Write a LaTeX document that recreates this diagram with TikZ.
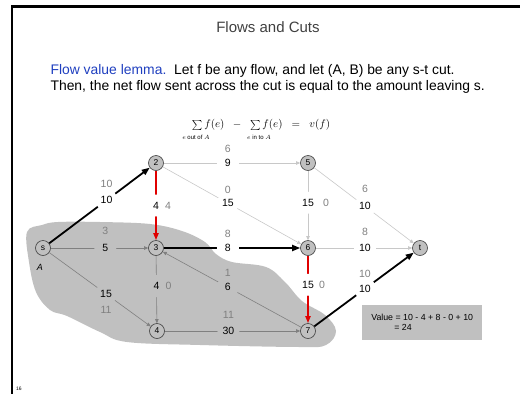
\documentclass[tikz,border=0pt]{standalone}
\usepackage{fontspec}
\setmainfont{Liberation Sans}
\usetikzlibrary{arrows.meta,positioning}
\definecolor{cblue}{HTML}{1F3FBF}
\definecolor{cgray}{HTML}{C0C0C0}
\definecolor{clite}{HTML}{C8C8C8}
\definecolor{cdark}{HTML}{808080}
\definecolor{cred}{HTML}{E00000}
\definecolor{ctitle}{HTML}{404040}
\tikzset{
  >={Triangle[length=4pt,width=3.5pt]},
  cvert/.style={circle, draw=black!75, fill=cgray, line width=0.6pt,
                minimum size=15pt, inner sep=0pt, font=\fontsize{8.5}{9}\selectfont},
  cflow/.style={circle, fill=white, inner sep=0pt, minimum size=22pt,
                font=\fontsize{10.5}{12}\selectfont},
  cflowin/.style={cflow, fill=cgray},
  ccap/.style={text=cdark, inner sep=1pt, font=\fontsize{10.5}{12}\selectfont},
  cpale/.style={->, draw=clite, line width=0.6pt},
  cinside/.style={->, draw=cdark, line width=0.6pt},
  cout/.style={-{Triangle[length=8pt,width=6pt]}, draw=black, line width=1.8pt},
  cinto/.style={-{Triangle[length=7pt,width=5pt]}, draw=cred, line width=1.8pt},
  cvalue/.style={fill=cgray, minimum width=120pt, minimum height=35pt,
                 align=left, inner xsep=8pt, font=\fontsize{8.8}{10}\selectfont},
}

\begin{document}
\begin{tikzpicture}[x=1pt,y=-1pt]
  \useasboundingbox (0,0) rectangle (520,394);

  % slide frame
  \draw[line width=2.4pt] (11,6.5) -- (520,6.5);
  \draw[line width=2.4pt] (12,6) -- (12,394);

  \node[text=ctitle, font=\fontsize{15}{17}\selectfont] (title) at (268,27) {Flows and Cuts};
  \node[anchor=west, align=left, font=\fontsize{13.9}{16}\selectfont] (lemma) at (47,79)
    {{\color{cblue}Flow value lemma.}\ \ Let f be any flow, and let (A, B) be any s-t cut.\\
     Then, the net flow sent across the cut is equal to the amount leaving s.};

  \node[font=\fontsize{10.5}{12}\selectfont] (sumf) at (261,125)
    {$\sum f(e) \;\;-\;\; \sum f(e) \;\;=\;\; v(f)$};
  \node[font=\fontsize{6}{7}\selectfont] (subout) at (196,137) {$e$ out of $A$};
  \node[font=\fontsize{6}{7}\selectfont] (subin) at (259,137) {$e$ in to $A$};

  % side A of the cut
  \fill[cgray] plot[smooth cycle, tension=0.6] coordinates {
    (27,232) (42,225) (58,222) (100,222) (150,224) (182,231) (205,242)
    (216,254) (232,262) (266,267) (285,282) (302,301) (325,315) (336,331)
    (326,345) (300,347) (200,345) (127,342) (100,332) (67,316) (50,310)
    (36,292) (29,262)};

  \node[cvert] (s)  at (43,248)  {s};
  \node[cvert] (n2) at (156,163) {2};
  \node[cvert] (n3) at (156,248) {3};
  \node[cvert] (n4) at (157,331) {4};
  \node[cvert] (n5) at (308,163) {5};
  \node[cvert] (n6) at (308,248) {6};
  \node[cvert] (n7) at (308,331) {7};
  \node[cvert] (t)  at (420,248) {t};
  \node[font=\itshape\fontsize{9}{10}\selectfont] (alabel) at (40,267) {A};

  \draw[cinside] (s) -- node[cflowin,pos=.56]{5} node[ccap,pos=.56,yshift=17pt]{3} (n3);
  \draw[cinside] (s) -- node[cflowin,pos=.56]{15} node[ccap,pos=.56,yshift=-16pt]{11} (n4);
  \draw[cinside] (n3) -- node[cflowin,pos=.45]{4} node[ccap,pos=.45,xshift=12pt]{0} (n4);
  \draw[cinside] (n7) -- node[cflowin,pos=.53]{6} node[ccap,pos=.53,yshift=14pt]{1} (n3);
  \draw[cinside] (n4) -- node[cflowin,pos=.47]{30} node[ccap,pos=.47,yshift=16pt]{11} (n7);

  \draw[cpale] (n2) -- node[cflow,pos=.47]{9} node[ccap,pos=.47,yshift=14pt]{6} (n5);
  \draw[cpale] (n2) -- node[cflow,pos=.47]{15} node[ccap,pos=.47,yshift=13pt]{0} (n6);
  \draw[cpale] (n5) -- node[cflow,pos=.46]{15} node[ccap,pos=.46,xshift=18pt]{0} (n6);
  \draw[cpale] (n5) -- node[cflow,pos=.51]{10} node[ccap,pos=.51,yshift=17pt]{6} (t);
  \draw[cpale] (n6) -- node[cflow,pos=.51]{10} node[ccap,pos=.51,yshift=16pt]{8} (t);

  \draw[cout] (s) -- node[cflow,pos=.57]{10} node[ccap,pos=.57,yshift=16pt]{10} (n2);
  \draw[cout] (n3) -- node[cflow,pos=.47]{8} node[ccap,pos=.47,yshift=14pt]{8} (n6);
  \draw[cout] (n7) -- node[cflow,pos=.51]{10} node[ccap,pos=.51,yshift=15pt]{10} (t);

  \draw[cinto] (n2) -- node[cflow,pos=.5]{4} node[ccap,pos=.5,xshift=12pt]{4} (n3);
  \draw[cinto] (n6) -- node[cflow,pos=.43]{15} node[ccap,pos=.43,xshift=14pt]{0} (n7);

  \node[cvalue, anchor=north west] (val) at (362,305)
    {Value = 10 - 4 + 8 - 0 + 10\\\hspace*{23pt}= 24};

  \node[font=\fontsize{5}{6}\selectfont] (pgno) at (19,389) {16};
\end{tikzpicture}
\end{document}
